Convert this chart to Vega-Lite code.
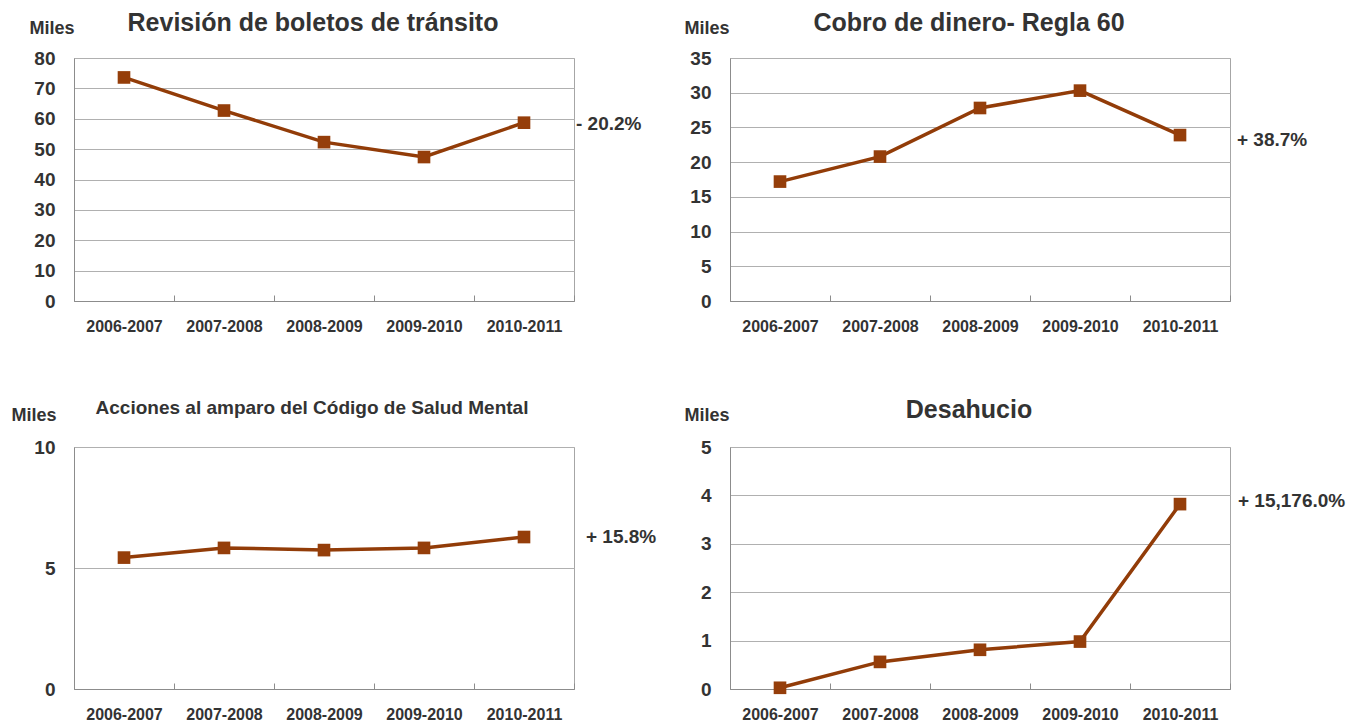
{
  "$schema": "https://vega.github.io/schema/vega-lite/v6.json",
  "background": "white",
  "padding": {"left": 10, "top": 10, "right": 5, "bottom": 5},
  "bounds": "flush",
  "columns": 2,
  "spacing": {"row": 146, "column": 156},
  "datasets": {
    "series": [
      {"panel": "p1", "period": "2006-2007", "value": 73.6},
      {"panel": "p1", "period": "2007-2008", "value": 62.7},
      {"panel": "p1", "period": "2008-2009", "value": 52.3},
      {"panel": "p1", "period": "2009-2010", "value": 47.4},
      {"panel": "p1", "period": "2010-2011", "value": 58.7, "note": "- 20.2%"},
      {"panel": "p2", "period": "2006-2007", "value": 17.2},
      {"panel": "p2", "period": "2007-2008", "value": 20.8},
      {"panel": "p2", "period": "2008-2009", "value": 27.8},
      {"panel": "p2", "period": "2009-2010", "value": 30.3},
      {"panel": "p2", "period": "2010-2011", "value": 23.9, "note": "+ 38.7%"},
      {"panel": "p3", "period": "2006-2007", "value": 5.43},
      {"panel": "p3", "period": "2007-2008", "value": 5.83},
      {"panel": "p3", "period": "2008-2009", "value": 5.74},
      {"panel": "p3", "period": "2009-2010", "value": 5.83},
      {"panel": "p3", "period": "2010-2011", "value": 6.28, "note": "+ 15.8%"},
      {"panel": "p4", "period": "2006-2007", "value": 0.025},
      {"panel": "p4", "period": "2007-2008", "value": 0.56},
      {"panel": "p4", "period": "2008-2009", "value": 0.81},
      {"panel": "p4", "period": "2009-2010", "value": 0.98},
      {"panel": "p4", "period": "2010-2011", "value": 3.82, "note": "+ 15,176.0%"}
    ]
  },
  "concat": [
    {
      "width": 500, "height": 243,
      "title": {"text": "Revisión de boletos de tránsito", "fontSize": 25, "dx": -11, "dy": 21},
      "data": {"name": "series"},
      "transform": [{"filter": "datum.panel === 'p1'"}],
      "encoding": {
        "x": {"field": "period", "type": "ordinal", "bandPosition": 0.5, "scale": {"type": "band", "paddingInner": 0, "paddingOuter": 0}, "axis": {"title": null}},
        "y": {"field": "value", "type": "quantitative", "scale": {"domain": [0, 80], "nice": false}, "axis": {"values": [0, 10, 20, 30, 40, 50, 60, 70, 80], "title": "Miles", "titleX": -45, "titleY": -25}}
      },
      "layer": [
        {"mark": {"type": "line", "color": "#923c08", "strokeWidth": 3.5}},
        {"mark": {"type": "point", "shape": "square", "filled": true, "size": 160, "color": "#953e0a", "opacity": 1}},
        {"transform": [{"filter": "isValid(datum.note)"}], "mark": {"type": "text", "align": "left", "baseline": "middle", "dx": 52, "dy": 1, "fontSize": 19, "fontWeight": "bold", "font": "Liberation Sans", "color": "#333333"}, "encoding": {"text": {"field": "note"}}}
      ]
    },
    {
      "width": 500, "height": 243,
      "title": {"text": "Cobro de dinero- Regla 60", "fontSize": 25, "dx": -11, "dy": 21},
      "data": {"name": "series"},
      "transform": [{"filter": "datum.panel === 'p2'"}],
      "encoding": {
        "x": {"field": "period", "type": "ordinal", "bandPosition": 0.5, "scale": {"type": "band", "paddingInner": 0, "paddingOuter": 0}, "axis": {"title": null}},
        "y": {"field": "value", "type": "quantitative", "scale": {"domain": [0, 35], "nice": false}, "axis": {"values": [0, 5, 10, 15, 20, 25, 30, 35], "title": "Miles", "titleX": -46, "titleY": -25}}
      },
      "layer": [
        {"mark": {"type": "line", "color": "#923c08", "strokeWidth": 3.5}},
        {"mark": {"type": "point", "shape": "square", "filled": true, "size": 160, "color": "#953e0a", "opacity": 1}},
        {"transform": [{"filter": "isValid(datum.note)"}], "mark": {"type": "text", "align": "left", "baseline": "middle", "dx": 57, "dy": 5, "fontSize": 19, "fontWeight": "bold", "font": "Liberation Sans", "color": "#333333"}, "encoding": {"text": {"field": "note"}}}
      ]
    },
    {
      "width": 500, "height": 242,
      "title": {"text": "Acciones al amparo del Código de Salud Mental", "fontSize": 19, "dx": -12, "dy": 16},
      "data": {"name": "series"},
      "transform": [{"filter": "datum.panel === 'p3'"}],
      "encoding": {
        "x": {"field": "period", "type": "ordinal", "bandPosition": 0.5, "scale": {"type": "band", "paddingInner": 0, "paddingOuter": 0}, "axis": {"title": null}},
        "y": {"field": "value", "type": "quantitative", "scale": {"domain": [0, 10], "nice": false}, "axis": {"values": [0, 5, 10], "title": "Miles", "titleX": -63, "titleY": -27}}
      },
      "layer": [
        {"mark": {"type": "line", "color": "#923c08", "strokeWidth": 3.5}},
        {"mark": {"type": "point", "shape": "square", "filled": true, "size": 160, "color": "#953e0a", "opacity": 1}},
        {"transform": [{"filter": "isValid(datum.note)"}], "mark": {"type": "text", "align": "left", "baseline": "middle", "dx": 62, "dy": 0, "fontSize": 19, "fontWeight": "bold", "font": "Liberation Sans", "color": "#333333"}, "encoding": {"text": {"field": "note"}}}
      ]
    },
    {
      "width": 500, "height": 242,
      "title": {"text": "Desahucio", "fontSize": 25, "dx": -11, "dy": 21},
      "data": {"name": "series"},
      "transform": [{"filter": "datum.panel === 'p4'"}],
      "encoding": {
        "x": {"field": "period", "type": "ordinal", "bandPosition": 0.5, "scale": {"type": "band", "paddingInner": 0, "paddingOuter": 0}, "axis": {"title": null}},
        "y": {"field": "value", "type": "quantitative", "scale": {"domain": [0, 5], "nice": false}, "axis": {"values": [0, 1, 2, 3, 4, 5], "title": "Miles", "titleX": -46, "titleY": -27}}
      },
      "layer": [
        {"mark": {"type": "line", "color": "#923c08", "strokeWidth": 3.5}},
        {"mark": {"type": "point", "shape": "square", "filled": true, "size": 160, "color": "#953e0a", "opacity": 1}},
        {"transform": [{"filter": "isValid(datum.note)"}], "mark": {"type": "text", "align": "left", "baseline": "middle", "dx": 58, "dy": -3, "fontSize": 19, "fontWeight": "bold", "font": "Liberation Sans", "color": "#333333"}, "encoding": {"text": {"field": "note"}}}
      ]
    }
  ],
  "config": {
    "font": "Liberation Sans",
    "view": {"stroke": "#a6a6a6", "strokeWidth": 1},
    "title": {"font": "Liberation Sans", "fontWeight": "bold", "color": "#333333", "anchor": "middle"},
    "axis": {
      "labelFont": "Liberation Sans",
      "labelFontWeight": "bold",
      "labelColor": "#333333",
      "titleFont": "Liberation Sans",
      "titleFontWeight": "bold",
      "titleColor": "#333333",
      "titleFontSize": 18,
      "titleAngle": 0,
      "titleAlign": "left",
      "titleBaseline": "alphabetic",
      "domainColor": "#8c8c8c",
      "gridColor": "#b0b0b0"
    },
    "axisY": {"ticks": false, "labelFontSize": 19, "labelPadding": 19, "grid": true, "domain": true},
    "axisX": {"tickBand": "extent", "tickSize": -6, "tickColor": "#8c8c8c", "labelFontSize": 16, "labelPadding": 23, "labelAngle": 0, "grid": false}
  }
}
